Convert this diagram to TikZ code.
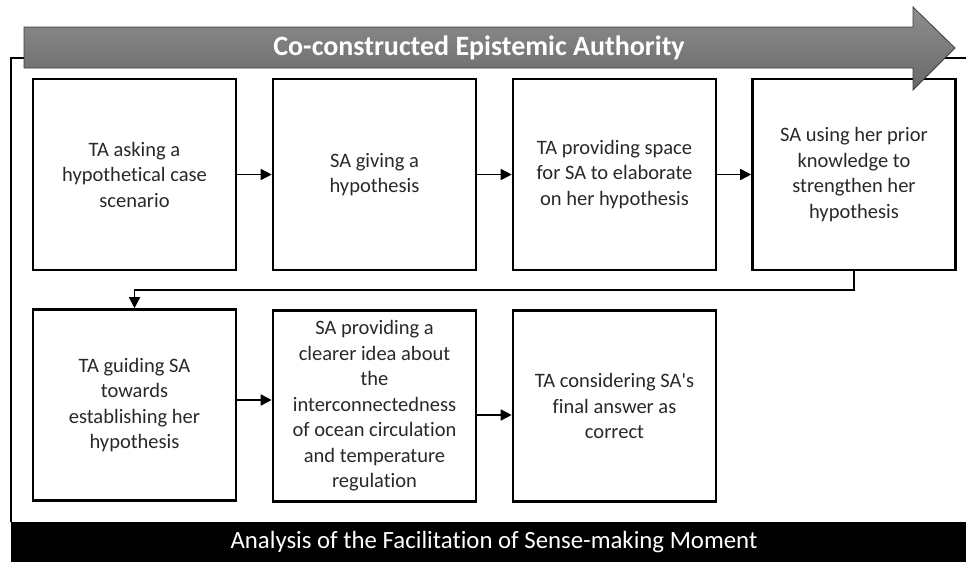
\documentclass[tikz,border=0pt]{standalone}
\usepackage{fontspec}
\setmainfont{Carlito}[Ligatures=NoCommon]
\usepackage{tikz}
\usetikzlibrary{arrows.meta}

\definecolor{bandtop}{RGB}{142,142,142}
\definecolor{bandbot}{RGB}{104,104,104}
\definecolor{bandline}{RGB}{60,60,60}
\definecolor{boxtext}{RGB}{40,40,40}

\begin{document}
\begin{tikzpicture}[x=1pt, y=-1pt,
        stepbox/.style={draw, line width=2.6pt, minimum width=203pt,
            minimum height=191pt, inner sep=0pt, align=center,
            text=boxtext, font=\fontsize{20.5}{25.5}\selectfont},
        flow/.style={line width=1.6pt, -{Triangle[length=11pt, width=11pt]}}]
        \useasboundingbox (0, 0) rectangle (966, 562);
        % outer frame
        \draw[line width=1.4pt] (966, 58) -- (11, 58) -- (11, 522);
        \fill[black] (11, 522) rectangle (966, 562);
        \node[text=white, font=\fontsize{24.8}{28}\selectfont] (moment) at (494, 542)
            {Analysis of the Facilitation of Sense-making Moment};
        % first row
        \node[stepbox] (b1) at (134.5, 174.5) {TA asking a\\ hypothetical case\\ scenario};
        \node[stepbox] (b2) at (374.5, 174.5) {SA giving a\\ hypothesis};
        \node[stepbox] (b3) at (614.5, 174.5) {TA providing space\\ for SA to elaborate\\ on her hypothesis};
        \node[stepbox] (b4) at (854, 174.5) {SA using her prior\\ knowledge to\\ strengthen her\\ hypothesis};
        % second row
        \node[stepbox] (b5) at (134.5, 405) {TA guiding SA\\ towards\\ establishing her\\ hypothesis};
        \node[stepbox] (b6) at (374.5, 406) {SA providing a\\ clearer idea about\\ the\\ interconnectedness\\ of ocean circulation\\ and temperature\\ regulation};
        \node[stepbox] (b7) at (614.5, 406) {TA considering SA\textquotesingle s\\ final answer as\\ correct};
        \draw[flow] (b1) -- (b2);
        \draw[flow] (b2) -- (b3);
        \draw[flow] (b3) -- (b4);
        \draw[flow] (b4.south) -- (b4.south |- 0, 290) -| (b5.north);
        \draw[flow] ([yshift=5pt]b5.east) -- ([yshift=6pt]b6.west);
        \draw[flow] ([yshift=-9pt]b6.east) -- ([yshift=-9pt]b7.west);
        % big arrow on top
        \shade[top color=bandtop, bottom color=bandbot, draw=bandline, line width=0.8pt]
            (24, 27) -- (913, 27) -- (913, 7) -- (955, 48) -- (913, 90)
            -- (913, 68) -- (24, 68) -- cycle;
        \node[text=white, font=\bfseries\fontsize{28}{32}\selectfont] (authority) at (479, 48)
            {Co-constructed Epistemic Authority};
    \end{tikzpicture}
\end{document}
